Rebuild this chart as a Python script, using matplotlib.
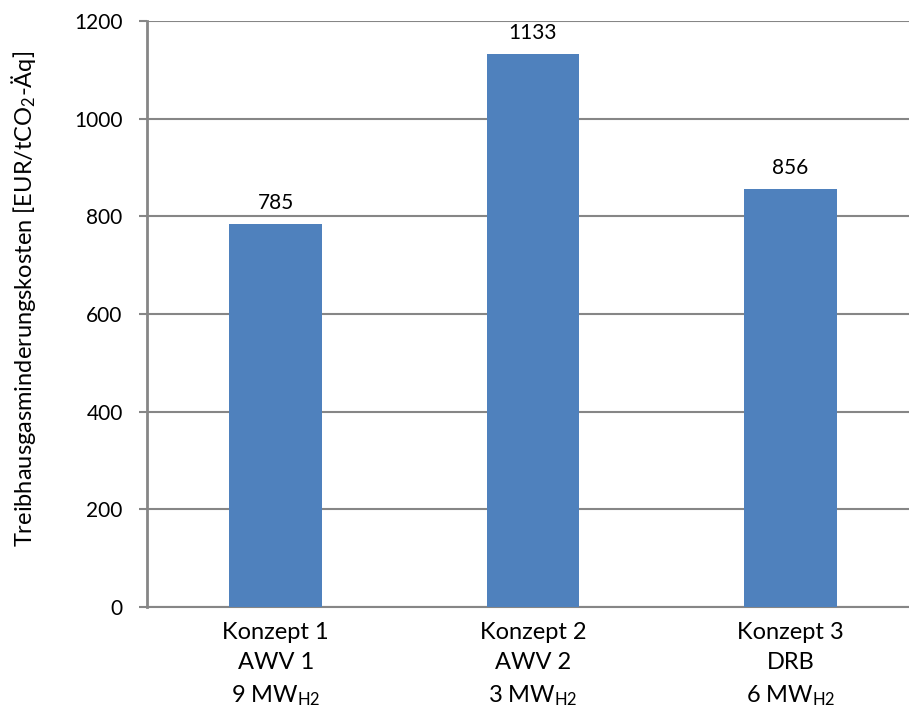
import matplotlib
matplotlib.use("Agg")
import matplotlib.pyplot as plt

plt.rcParams['font.family'] = ['Lato', 'DejaVu Sans']
plt.rcParams['mathtext.default'] = 'regular'

konzepte = ["Konzept 1", "Konzept 2", "Konzept 3"]
anlagen = ["AWV 1", "AWV 2", "DRB"]
leistung = ["9", "3", "6"]
kosten = [785, 1133, 856]

labels = [f"{k}\n{a}\n{p} MW$_{{H2}}$" for k, a, p in zip(konzepte, anlagen, leistung)]

fig = plt.figure(figsize=(9.09, 7.18), dpi=100)
# right edge runs past the figure like in the original
ax = fig.add_axes([147 / 909, (718 - 607) / 718, 772 / 909, 586 / 718])

x = range(len(kosten))
bars = ax.bar(x, kosten, width=0.36, color='#4F81BD', zorder=3)
for b, v in zip(bars, kosten):
    ax.annotate(str(v), (b.get_x() + b.get_width() / 2, v), xytext=(0, 15),
                textcoords='offset points', ha='center', va='center',
                fontsize=15, color='black')

ax.set_xlim(-0.5, 2.5)
ax.set_ylim(0, 1200)
ax.set_yticks(range(0, 1201, 200))
ax.set_xticks(list(x))
ax.set_xticklabels(labels, fontsize=17, linespacing=1.52)
ax.tick_params(axis='y', labelsize=15, length=5.5, width=1.5, color='#868686', pad=12)
ax.tick_params(axis='x', length=0, pad=11)

ax.grid(axis='y', color='#868686', linewidth=1.5, zorder=0)
for s in ['top', 'right']:
    ax.spines[s].set_visible(False)
ax.spines['left'].set_color('#868686')
ax.spines['left'].set_linewidth(2)
ax.spines['bottom'].set_color('#868686')
ax.spines['bottom'].set_linewidth(1.5)

ax.set_ylabel("Treibhausgasminderungskosten [EUR/tCO$_2$-Äq]", fontsize=17)
ax.yaxis.set_label_coords((38 - 147) / 772, (607 - 299) / 586)

fig.savefig("out.png", dpi=100)
